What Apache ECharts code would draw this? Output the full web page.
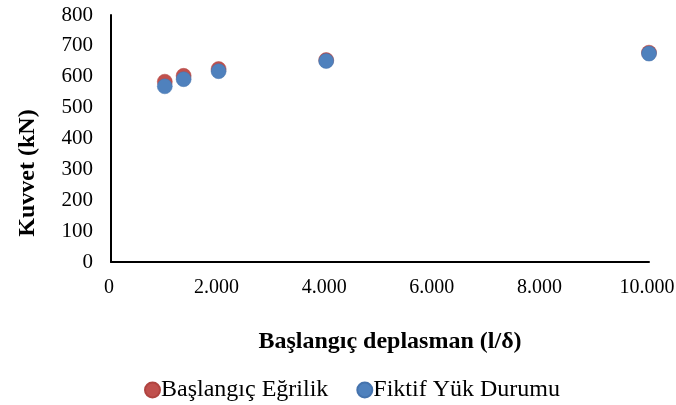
<!DOCTYPE html>
<html>
<head>
<meta charset="utf-8">
<script src="https://cdn.jsdelivr.net/npm/echarts@6/dist/echarts.min.js"></script>
<style>html,body{margin:0;padding:0;background:#fff}#c{width:676px;height:405px}</style>
</head>
<body>
<div id="c"></div>
<script>
var seriesNames = ['Başlangıç Eğrilik', 'Fiktif Yük Durumu'];
var xValues = [1000, 1350, 2000, 4000, 10000];
var redValues = [584, 603, 625, 654, 678];
var blueValues = [569, 592, 618, 651, 675];
var yTicks = [0, 100, 200, 300, 400, 500, 600, 700, 800];
var xTicks = [0, 2000, 4000, 6000, 8000, 10000];
var xTitle = 'Başlangıç deplasman (l/δ)';
var yTitle = 'Kuvvet (kN)';

function pairs(xs, ys) { return xs.map(function (x, i) { return [x, ys[i]]; }); }
function fmt(v) { return String(v).replace(/\B(?=(\d{3})+(?!\d))/g, '.'); }

var font = '"Liberation Serif", "Times New Roman", serif';
var chart = echarts.init(document.getElementById('c'));
chart.setOption({
  animation: false,
  textStyle: { fontFamily: font },
  grid: { left: 111, right: 27, top: 15, bottom: 143, containLabel: false, outerBoundsMode: 'none' },
  legend: {
    top: 373, left: 139,
    itemGap: 28, itemWidth: 15, itemHeight: 15,
    textStyle: { fontFamily: font, fontSize: 24, color: '#000', padding: [0, 0, 0, -4] },
    data: [{ name: seriesNames[0], icon: 'circle' }, { name: seriesNames[1], icon: 'circle' }]
  },
  xAxis: {
    type: 'value', min: xTicks[0], max: xTicks[xTicks.length - 1], interval: 2000,
    name: xTitle, nameLocation: 'middle', nameGap: 68,
    nameTextStyle: { fontFamily: font, fontSize: 24, fontWeight: 'bold', color: '#000', padding: [0, 0, 0, 20] },
    axisLine: { show: true, lineStyle: { color: '#000', width: 2 } },
    axisTick: { show: false }, splitLine: { show: false },
    axisLabel: { margin: 16, fontFamily: font, fontSize: 20, color: '#000', formatter: fmt, padding: [0, 4, 0, 0] }
  },
  yAxis: {
    type: 'value', min: yTicks[0], max: yTicks[yTicks.length - 1], interval: 100,
    axisLine: { show: true, lineStyle: { color: '#000', width: 2 } },
    axisTick: { show: false }, splitLine: { show: false },
    axisLabel: { margin: 18, fontFamily: font, fontSize: 21, color: '#000' }
  },
  graphic: [{
    type: 'text', x: 28, y: 173, rotation: Math.PI / 2,
    style: { text: yTitle, font: 'bold 24px ' + font, fill: '#000', align: 'center', verticalAlign: 'middle' }
  }],
  series: [{
    name: seriesNames[0], type: 'scatter', symbolSize: 15,
    itemStyle: { color: '#C0504D', borderColor: '#B04440', borderWidth: 0.5, opacity: 1 },
    data: pairs(xValues, redValues)
  }, {
    name: seriesNames[1], type: 'scatter', symbolSize: 15,
    itemStyle: { color: '#4F81BD', borderColor: '#4573AD', borderWidth: 0.5, opacity: 1 },
    data: pairs(xValues, blueValues)
  }]
});
</script>
</body>
</html>
